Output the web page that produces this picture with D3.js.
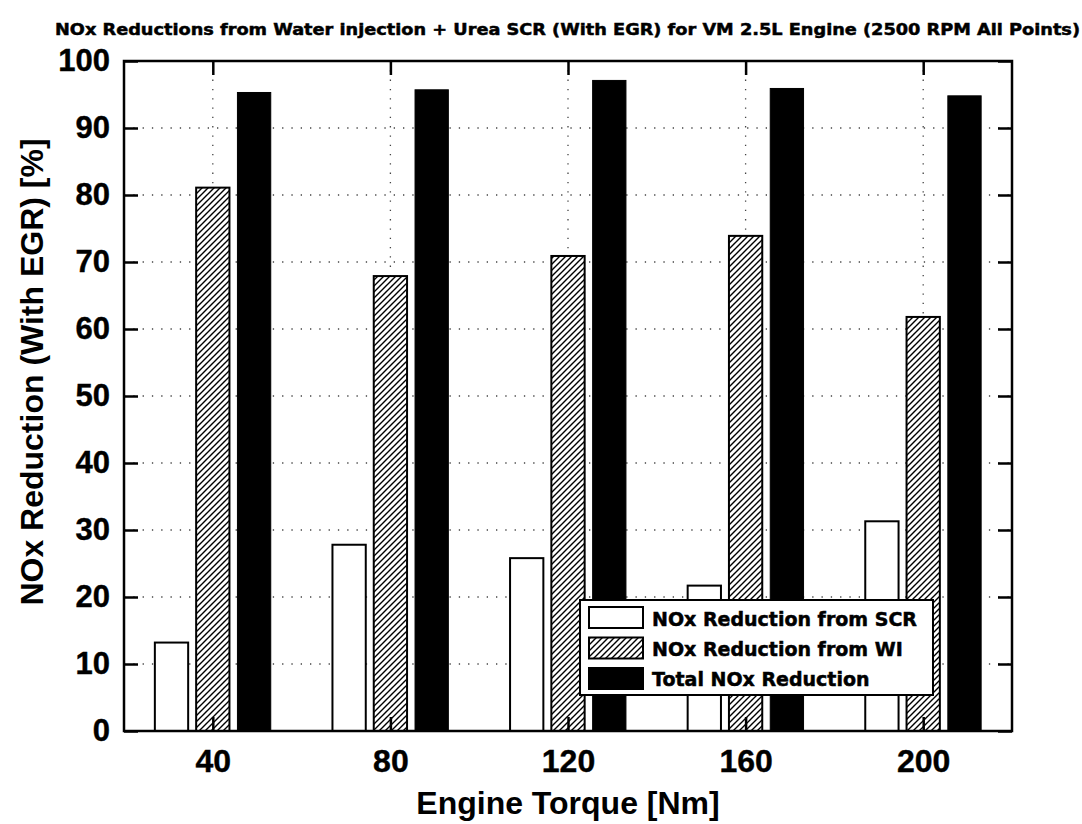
<!DOCTYPE html>
<html>
<head>
<meta charset="utf-8">
<script src="https://cdn.jsdelivr.net/npm/d3@7/dist/d3.min.js"></script>
<style>
  html, body { margin:0; padding:0; background:#fff; }
  svg { display:block; }
  .tick text { font-family:"Liberation Sans", Arial, sans-serif; font-weight:bold; fill:#000; }
</style>
</head>
<body>
<svg id="chart" width="1082" height="824"></svg>
<script>
// data
const torque   = [40, 80, 120, 160, 200];
const scrVals  = [13.2, 27.8, 25.8, 21.7, 31.3];
const wiVals   = [81.1, 67.9, 70.9, 73.9, 61.8];
const totVals  = [95.3, 95.7, 97.1, 95.9, 94.8];
const legendLabels = ['NOx Reduction from SCR', 'NOx Reduction from WI', 'Total NOx Reduction'];
const yTickVals = [0, 10, 20, 30, 40, 50, 60, 70, 80, 90, 100];
const xTickVals = [40, 80, 120, 160, 200];

const W = 1082, H = 824;
const m = { left:124, right:1012, top:61, bottom:731 };

const svg = d3.select('#chart');
svg.append('rect').attr('width', W).attr('height', H).attr('fill', '#fff');

// hatch ///
const defs = svg.append('defs');
const pat = defs.append('pattern').attr('id', 'hatch')
  .attr('patternUnits', 'userSpaceOnUse').attr('width', 6).attr('height', 6);
pat.append('rect').attr('width', 6).attr('height', 6).attr('fill', '#fff');
pat.append('path').attr('d', 'M0,6 L6,0 M-1,1 L1,-1 M5,7 L7,5')
  .attr('stroke', '#000').attr('stroke-width', 1.4);

const x = d3.scaleLinear().domain([20, 220]).range([m.left, m.right]);
const y = d3.scaleLinear().domain([0, 100]).range([m.bottom, m.top]);

// dotted grid
const g = svg.append('g').attr('stroke', '#444').attr('stroke-width', 1.3)
  .attr('stroke-dasharray', '1.3,8');
g.selectAll('.hg').data(yTickVals.slice(1, -1)).enter().append('line')
  .attr('x1', m.left).attr('x2', m.right)
  .attr('y1', d => y(d)).attr('y2', d => y(d));
g.selectAll('.vg').data(xTickVals).enter().append('line')
  .attr('x1', d => x(d)).attr('x2', d => x(d))
  .attr('y1', m.top).attr('y2', m.bottom);

// bars
const off = 9.3, bw = 7.5;
const series = [
  { vals:scrVals, dx:-off, fill:'#fff',         stroke:'#000', sw:2 },
  { vals:wiVals,  dx:0,    fill:'url(#hatch)',  stroke:'#000', sw:2 },
  { vals:totVals, dx:off,  fill:'#000',         stroke:'#000', sw:1 }
];
series.forEach(s => {
  svg.append('g').selectAll('rect').data(torque).enter().append('rect')
    .attr('x', (d) => x(d + s.dx - bw / 2))
    .attr('width', x(bw) - x(0))
    .attr('y', (d, i) => y(s.vals[i]))
    .attr('height', (d, i) => y(0) - y(s.vals[i]))
    .attr('fill', s.fill).attr('stroke', s.stroke).attr('stroke-width', s.sw);
});

// axes: ticks inward
const ax = svg.append('g');
ax.append('g').attr('transform', 'translate(' + m.left + ',0)')
  .call(d3.axisLeft(y).tickValues(yTickVals).tickSizeInner(-14).tickSizeOuter(0).tickPadding(14))
  .call(a => a.selectAll('text').attr('font-size', 31).attr('stroke', '#000').attr('stroke-width', 0.4));
ax.append('g').attr('transform', 'translate(' + m.right + ',0)')
  .call(d3.axisRight(y).tickValues(yTickVals).tickSizeInner(-14).tickSizeOuter(0).tickFormat(''));
ax.append('g').attr('transform', 'translate(0,' + m.bottom + ')')
  .call(d3.axisBottom(x).tickValues(xTickVals).tickSizeInner(-14).tickSizeOuter(0).tickPadding(18))
  .call(a => a.selectAll('text').attr('font-size', 32).attr('stroke', '#000').attr('stroke-width', 0.4));
ax.append('g').attr('transform', 'translate(0,' + m.top + ')')
  .call(d3.axisTop(x).tickValues(xTickVals).tickSizeInner(-14).tickSizeOuter(0).tickFormat(''));
ax.selectAll('.domain').remove();
ax.selectAll('.tick line').attr('stroke', '#000').attr('stroke-width', 2.5);

// frame
svg.append('rect').attr('x', m.left).attr('y', m.top)
  .attr('width', m.right - m.left).attr('height', m.bottom - m.top)
  .attr('fill', 'none').attr('stroke', '#000').attr('stroke-width', 2.5);

// title
svg.append('text').attr('x', 55).attr('y', 35)
  .attr('font-family', '"DejaVu Sans", sans-serif').attr('font-weight', 'bold')
  .attr('font-size', 16).attr('textLength', 1025).attr('lengthAdjust', 'spacingAndGlyphs')
  .attr('stroke', '#000').attr('stroke-width', 0.5)
  .text('NOx Reductions from Water injection + Urea SCR (With EGR) for VM 2.5L Engine (2500 RPM All Points)');

// axis labels
svg.append('text').attr('transform', 'translate(43,372) rotate(-90)')
  .attr('text-anchor', 'middle')
  .attr('font-family', '"Liberation Sans", Arial, sans-serif').attr('font-weight', 'bold')
  .attr('font-size', 32).text('NOx Reduction (With EGR) [%]');
svg.append('text').attr('x', 568).attr('y', 814).attr('text-anchor', 'middle')
  .attr('font-family', '"Liberation Sans", Arial, sans-serif').attr('font-weight', 'bold')
  .attr('font-size', 32).text('Engine Torque [Nm]');

// legend
const lg = svg.append('g').attr('transform', 'translate(580,600)');
lg.append('rect').attr('width', 353).attr('height', 95)
  .attr('fill', '#fff').attr('stroke', '#000').attr('stroke-width', 2);
const lgFills = ['#fff', 'url(#hatch)', '#000'];
legendLabels.forEach((t, i) => {
  lg.append('rect').attr('x', 9).attr('y', 7 + i * 30.5).attr('width', 54).attr('height', 21)
    .attr('fill', lgFills[i]).attr('stroke', '#000').attr('stroke-width', 2);
  lg.append('text').attr('x', 72).attr('y', 25.5 + i * 30)
    .attr('font-family', '"DejaVu Sans", sans-serif').attr('font-weight', 'bold')
    .attr('font-size', 19).attr('stroke', '#000').attr('stroke-width', 0.5).text(t);
});
</script>
</body>
</html>
